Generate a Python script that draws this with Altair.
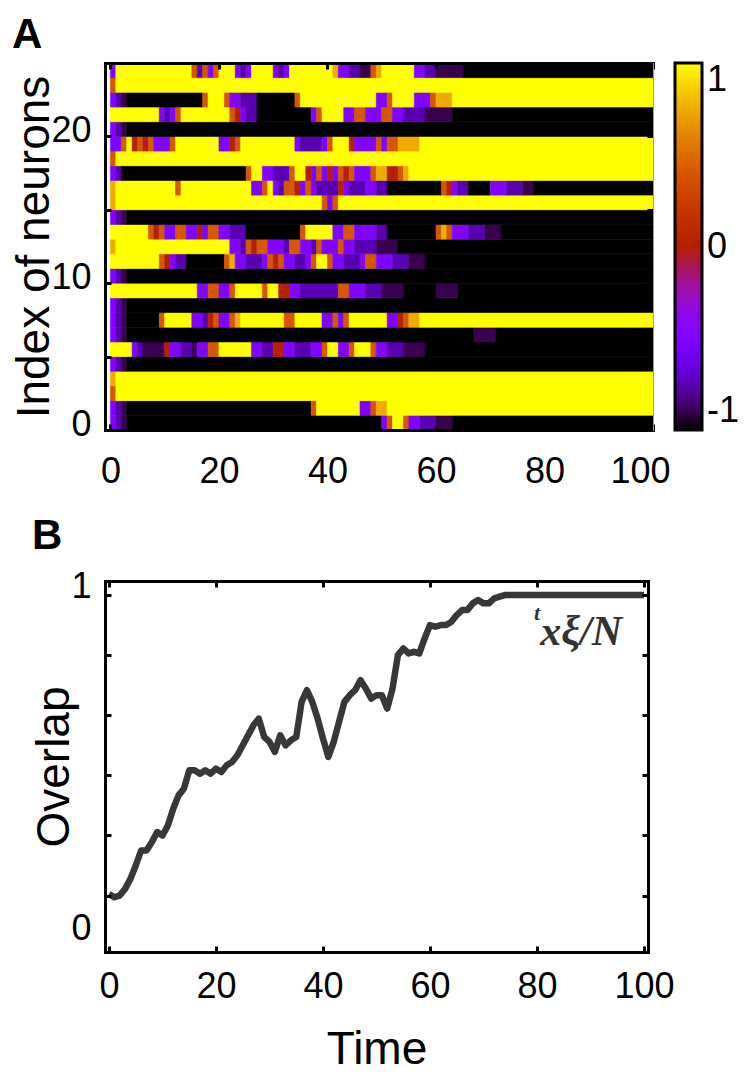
import math
import altair as alt
import pandas as pd

# ------------------------------------------------------------------ data
# Panel A: state of every neuron along time, run-length coded
# ("<code><number of time units>"); the last run lasts until the end.
STATE_CODES = ["K", "k", "d", "p", "r", "o", "y", "Y"]
STATE_VALUES = [-1.0, -0.9, -0.75, -0.5, 0.0, 0.4, 0.75, 1.0]
SIM_TIME = 100
NEURON_RUNS = [
    "p1 d1 k1 K47 p1 o1 Y2 o1 p2 d3 k3 K",                                                # 0
    "p1 d1 k1 K34 o1 Y8 p2 o1 y2 Y",                                                      # 1
    "o1 Y",                                                                               # 2
    "y1 Y",                                                                               # 3
    "p1 d1 k1 K",                                                                         # 4
    "Y4 p1 d1 k4 r1 p2 d2 k1 p2 o2 Y6 p2 d2 r2 p2 d3 p2 o1 Y2 p2 o1 Y3 o1 p2 d3 k4 K",    # 5
    "p1 d1 k1 K64 k4 K",                                                                  # 6
    "p1 d1 k1 K6 o1 Y5 p2 d1 r1 o1 p2 o1 y1 Y8 o2 Y5 p2 o1 p1 o1 Y7 p2 r1 o1 y2 Y",       # 7
    "p1 d1 k1 K",                                                                         # 8
    "Y16 p2 o2 p2 o1 Y5 o1 Y2 r2 p2 d7 o2 p3 d3 k4 K6 k4 K",                              # 9
    "p1 d1 k1 K",                                                                         # 10
    "Y9 o1 r1 p1 d2 K7 o1 y1 p2 d3 p1 o1 r1 o1 p2 d2 p1 o1 Y2 o1 p2 d3 p1 o2 p3 d3 k3 K", # 11
    "y1 Y21 p2 d1 o1 r1 o2 p3 d1 o2 p2 d1 o1 p3 o1 p2 d4 k4 K",                           # 12
    "Y7 o1 r1 o1 p2 o2 p2 r1 p1 o2 p2 d3 K10 o1 Y5 p2 o2 p4 d2 K9 o1 y1 o1 p3 d3 k3 K",   # 13
    "p1 d1 k1 K",                                                                         # 14
    "y1 Y38 o1 p1 o1 Y",                                                                  # 15
    "y1 Y11 o1 Y13 p2 o1 Y1 p1 d1 o2 r1 p1 o1 p1 d4 r1 p1 d3 p2 d2 K10 o1 r1 p1 d2 K4 p3 d3 k2 K",  # 16
    "p1 d1 K23 o1 Y2 p2 d3 o1 Y2 r1 p1 o1 p1 r1 p1 o1 r1 o1 p3 o1 y2 r2 o1 y1 Y",         # 17
    "o1 Y",                                                                               # 18
    "p2 o1 Y1 r1 o1 r1 o1 p3 o1 Y8 p2 r1 o1 Y10 p1 d4 p1 o1 Y3 r1 p4 o1 p1 o2 y4 Y",      # 19
    "p1 d1 k1 K",                                                                         # 20
    "Y9 p1 d1 p1 o1 Y9 o1 r1 p1 d2 K10 p1 o1 Y4 p2 o2 p3 o2 p2 d4 k5 K",                  # 21
    "p1 d1 k1 K14 o1 Y3 o1 p2 d3 K7 o1 Y14 p2 o1 Y4 p3 o1 y3 Y",                          # 22
    "o1 Y",                                                                               # 23
    "p1 Y14 o1 d1 o1 p1 o1 Y3 p1 d1 p1 Y4 p1 d1 p1 Y8 y1 p2 d2 k2 o1 y1 Y6 p2 d2 k5 K",   # 24
]

# Panel B: overlap ^t x xi / N, one value per time unit (t = 0 ... 100)
OVERLAP_TIME = list(range(0, 101))
OVERLAP = [
    0.105, 0.095, 0.10, 0.12, 0.15, 0.19, 0.235, 0.235, 0.26, 0.29,
    0.28, 0.31, 0.36, 0.40, 0.42, 0.475, 0.475, 0.465, 0.475, 0.465,
    0.48, 0.47, 0.49, 0.50, 0.52, 0.55, 0.58, 0.61, 0.63, 0.575,
    0.56, 0.53, 0.58, 0.55, 0.565, 0.575, 0.68, 0.715, 0.68, 0.63,
    0.57, 0.515, 0.56, 0.62, 0.68, 0.70, 0.715, 0.745, 0.72, 0.69,
    0.70, 0.70, 0.66, 0.72, 0.82, 0.84, 0.825, 0.83, 0.825, 0.87,
    0.91, 0.905, 0.91, 0.91, 0.92, 0.94, 0.955, 0.955, 0.975, 0.985,
    0.975, 0.975, 0.99, 0.995,
] + [1.0] * 27

KEY_LABEL = "xξ/N"
KEY_SUPERSCRIPT = "t"

X_TICKS = [0, 20, 40, 60, 80, 100]
A_Y_LABELS = [0, 10, 20]
A_Y_TICKS = [0, 5, 10, 15, 20]
B_Y_LABELS = [0, 1]
B_Y_TICKS = [1.0, 0.82, 0.64, 0.46, 0.28, 0.10]
CBAR_LABELS = [-1, 0, 1]

# ------------------------------------------------------------------ tables
code_value = dict(zip(STATE_CODES, STATE_VALUES))
heat_rows = []
for neuron, spec in enumerate(NEURON_RUNS):
    parts = spec.split()
    t = 0
    for i, part in enumerate(parts):
        code = part[0]
        length = int(part[1:]) if len(part) > 1 else SIM_TIME - t
        if i == len(parts) - 1:
            length = SIM_TIME - t
        end = min(t + length, SIM_TIME)
        if end > t:
            heat_rows.append({"t0": t, "t1": end, "n0": neuron, "n1": neuron + 1,
                              "v": code_value[code]})
        t = end
heat_df = pd.DataFrame(heat_rows)
ov_df = pd.DataFrame({"time": OVERLAP_TIME, "overlap": OVERLAP})
key_df = pd.DataFrame({"time": [80.6], "overlap": [0.85]})
sup_df = pd.DataFrame({"time": [80.6], "overlap": [0.925]})


# gnuplot pm3d palette (rgbformulae 7,5,15)
def pm3d(x):
    r = math.sqrt(x)
    g = x ** 3
    b = max(0.0, math.sin(2 * math.pi * x))
    return "#%02x%02x%02x" % tuple(int(round(255 * c)) for c in (r, g, b))


PAL_N = 41
pal_domain = [-1 + 2 * i / (PAL_N - 1) for i in range(PAL_N)]
pal_range = [pm3d(i / (PAL_N - 1)) for i in range(PAL_N)]

# ------------------------------------------------------------------ style
SANS = "Liberation Sans, Arial, sans-serif"
SERIF = "Liberation Serif, Times New Roman, serif"
LABEL_FS = 36
TITLE_FS = 46
WA, HA = 548, 367
WB, HB = 543, 371


def label_axis(orient, values, title, label_padding, **kw):
    opts = dict(orient=orient, values=values, title=title, grid=False, format="d",
                ticks=False, tickSize=0, labelPadding=label_padding,
                labelFont=SANS, labelFontSize=LABEL_FS, labelColor="black",
                labelFlush=False, labelOverlap=False, labelBound=False,
                domain=True, domainColor="black", domainWidth=3, domainCap="square",
                zindex=1, titleFont=SANS, titleFontSize=TITLE_FS,
                titleFontWeight="normal", titleColor="black")
    opts.update(kw)
    return alt.Axis(**opts)


def edge_axis(orient, offset, values, domain, domain_color="black", domain_width=3):
    return alt.Axis(orient=orient, offset=offset, values=values, labels=False,
                    title=None, grid=False, ticks=True, tickSize=6, tickWidth=3,
                    tickColor="black", domain=domain, domainColor=domain_color,
                    domainWidth=domain_width, domainCap="square", zindex=1,
                    minExtent=0, maxExtent=0)


def panel_title(text, offset):
    return alt.TitleParams(text=text, anchor="start", frame="bounds",
                           font=SANS, fontSize=42, fontWeight="bold",
                           color="black", offset=offset)


# ------------------------------------------------------------------ panel A
xA = alt.Scale(domain=[-1, 100], nice=False, zero=False)
yA = alt.Scale(domain=[0, 25], nice=False, zero=False)
fill_scale = alt.Scale(domain=pal_domain, range=pal_range, interpolate="rgb")
# same colours for the cell outlines (hides hairline seams between cells)
stroke_scale = alt.Scale(domain=[d * 1.000001 for d in pal_domain], range=pal_range,
                         interpolate="rgb")

heat = alt.Chart(heat_df).mark_rect(strokeWidth=0.6).encode(
    x=alt.X("t0:Q", scale=xA,
            axis=label_axis("bottom", X_TICKS, None, 24, labelFlush=True,
                            labelFlushOffset=17)),
    x2="t1:Q",
    y=alt.Y("n0:Q", scale=yA,
            axis=label_axis("left", A_Y_LABELS, "Index of neurons", 14,
                            labelOffset=-6, titlePadding=-8)),
    y2="n1:Q",
    color=alt.Color("v:Q", scale=fill_scale,
                    legend=alt.Legend(type="gradient", title=None, orient="right",
                                      direction="vertical",
                                      gradientLength=HA, gradientThickness=27,
                                      gradientStrokeColor="black", gradientStrokeWidth=3,
                                      values=CBAR_LABELS, labelFont=SANS,
                                      labelFontSize=LABEL_FS, labelColor="black",
                                      labelOffset=5, labelOverlap=False,
                                      offset=0, padding=0,
                                      labelExpr="datum.value < 0 ? '-' + format(-datum.value, 'd') : format(datum.value, 'd')")),
    stroke=alt.Stroke("v:Q", scale=stroke_scale, legend=None),
)

ticksA1 = alt.Chart(heat_df).mark_point(opacity=0).encode(
    x=alt.X("t0:Q", scale=xA, axis=edge_axis("bottom", -HA, X_TICKS, True)),
    y=alt.Y("n0:Q", scale=yA, axis=edge_axis("left", -WA, A_Y_TICKS, True, "#9a9a9a", 1)),
)
ticksA2 = alt.Chart(heat_df).mark_point(opacity=0).encode(
    x=alt.X("t0:Q", scale=xA, axis=edge_axis("top", -HA, X_TICKS, False)),
    y=alt.Y("n0:Q", scale=yA, axis=edge_axis("right", -WA, A_Y_TICKS, False)),
)

panelA = alt.layer(heat, ticksA1, ticksA2).resolve_axis(
    x="independent", y="independent"
).properties(width=WA, height=HA, title=panel_title("A", 5))

# ------------------------------------------------------------------ panel B
xB = alt.Scale(domain=[-0.75, 100.75], nice=False, zero=False)
yB = alt.Scale(domain=[-0.069, 1.042], nice=False, zero=False)

line = alt.Chart(ov_df).mark_line(color="#383838", strokeWidth=6.5, strokeJoin="round").encode(
    x=alt.X("time:Q", scale=xB, axis=label_axis("bottom", X_TICKS, "Time", 17, titlePadding=23)),
    y=alt.Y("overlap:Q", scale=yB,
            axis=label_axis("left", B_Y_LABELS, "Overlap", 14, titlePadding=-8,
                            labelOffset={"condition": {"test": "datum.value == 1", "value": -9},
                                         "value": 0})),
)

key_text = alt.Chart(key_df).mark_text(
    text=KEY_LABEL, font=SERIF, fontSize=42, fontStyle="italic", fontWeight="bold",
    color="#333333", align="left", baseline="alphabetic",
).encode(
    x=alt.X("time:Q", scale=xB, axis=None),
    y=alt.Y("overlap:Q", scale=yB, axis=None),
)
key_sup = alt.Chart(sup_df).mark_text(
    text=KEY_SUPERSCRIPT, font=SERIF, fontSize=22, fontStyle="italic", fontWeight="bold",
    color="#333333", align="right", baseline="alphabetic",
).encode(
    x=alt.X("time:Q", scale=xB, axis=None),
    y=alt.Y("overlap:Q", scale=yB, axis=None),
)

ticksB1 = alt.Chart(ov_df).mark_point(opacity=0).encode(
    x=alt.X("time:Q", scale=xB, axis=edge_axis("bottom", -HB, X_TICKS, True)),
    y=alt.Y("overlap:Q", scale=yB, axis=edge_axis("left", -WB, B_Y_TICKS, True)),
)
ticksB2 = alt.Chart(ov_df).mark_point(opacity=0).encode(
    x=alt.X("time:Q", scale=xB, axis=edge_axis("top", -HB, X_TICKS, False)),
    y=alt.Y("overlap:Q", scale=yB, axis=edge_axis("right", -WB, B_Y_TICKS, False)),
)

panelB = alt.layer(line, key_text, key_sup, ticksB1, ticksB2).resolve_axis(
    x="independent", y="independent"
).properties(width=WB, height=HB, title=panel_title("B", 10))

chart = alt.vconcat(panelA, panelB, spacing=26).properties(
    padding={"left": 3, "top": 5, "right": 0, "bottom": 0},
    background="white",
).configure_view(strokeWidth=0)

chart.save("out.html", embed_options={"renderer": "svg", "actions": False})
